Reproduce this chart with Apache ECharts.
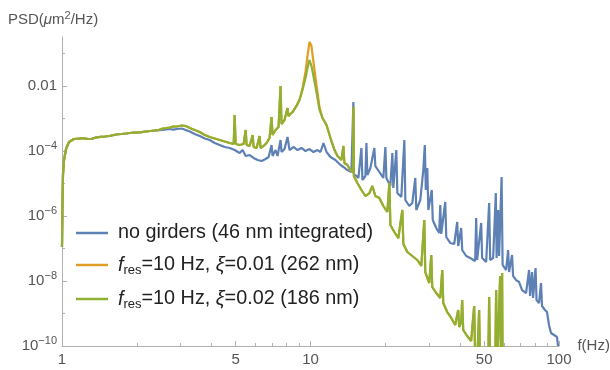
<!DOCTYPE html>
<html><head><meta charset="utf-8">
<script src="https://cdn.jsdelivr.net/npm/echarts@6/dist/echarts.min.js"></script>
<style>html,body{margin:0;padding:0;background:#fff}#c{width:610px;height:370px}</style>
</head><body><div id="c"></div>
<script>
// [frequency (Hz), PSD (um^2/Hz)]
const lowPart = [[1,1.11e-7],[1.005,3.1e-6],[1.009,1.83e-5],[1.019,5.28e-5],[1.038,1.15e-4],[1.067,1.89e-4],[1.117,2.34e-4],[1.181,2.43e-4],[1.23,2.45e-4],[1.272,2.34e-4],[1.32,2.38e-4],[1.369,2.60e-4],[1.43,2.72e-4],[1.488,2.79e-4],[1.55,2.90e-4],[1.618,3.11e-4],[1.68,3.28e-4],[1.742,3.34e-4],[1.81,3.45e-4],[1.876,3.58e-4],[1.95,3.70e-4],[2.019,3.71e-4],[2.09,3.80e-4],[2.175,3.98e-4],[2.27,4.12e-4],[2.363,4.28e-4],[2.45,4.40e-4]];

const blueTail = [[2.545,4.43e-4],[2.63,4.60e-4],[2.714,4.75e-4],[2.80,4.55e-4],[2.896,4.75e-4],[3.033,4.92e-4],[3.148,4.43e-4],[3.266,3.98e-4],[3.421,3.34e-4],[3.583,2.90e-4],[3.752,2.43e-4],[3.930,2.18e-4],[4.117,1.76e-4],[4.311,1.53e-4],[4.515,1.33e-4],[4.729,1.24e-4],[4.952,1.07e-4],[5.187,8.67e-5],[5.333,1.07e-4],[5.483,7.02e-5],[5.689,7.53e-5],[5.903,6.10e-5],[6.126,5.28e-5],[6.357,4.92e-5],[6.597,5.68e-5],[6.783,6.53e-5],[6.971,1.53e-4],[7.036,7.02e-5],[7.234,1.07e-4],[7.37,7.02e-5],[7.576,2.18e-4],[7.646,9.31e-5],[7.862,1.15e-4],[8.082,2.70e-4],[8.235,1.07e-4],[8.545,1.33e-4],[8.867,1.07e-4],[9.203,1.24e-4],[9.548,1.0e-4],[9.908,1.15e-4],[10.28,9.31e-5],[10.67,1.07e-4],[10.97,9.31e-5],[11.28,1.76e-4],[11.60,9.31e-5],[12.03,6.53e-5],[12.60,5.28e-5],[13.08,3.98e-5],[13.57,3.22e-5],[14.08,2.60e-5],[14.61,2.26e-5],[14.82,2.10e-5],[14.88,3.22e-3],[14.95,1.96e-5],[15.30,1.70e-5],[15.59,1.48e-5],[16.03,1.24e-4],[16.18,1.28e-5],[16.63,1.70e-5],[16.79,1.76e-4],[16.94,1.83e-5],[17.42,3.0e-5],[18.07,1.24e-4],[18.24,3.45e-5],[18.93,2.26e-5],[19.64,1.48e-5],[20.01,1.33e-4],[20.20,1.48e-5],[20.96,8.38e-6],[21.35,8.67e-5],[21.54,7.28e-6],[22.15,1.07e-4],[22.36,5.10e-6],[23.20,3.84e-6],[23.86,2.18e-4],[24.08,3.11e-6],[24.98,2.03e-6],[25.68,2.51e-6],[26.41,1.48e-5],[26.65,1.53e-6],[27.66,3.11e-6],[28.44,2.60e-5],[28.84,1.53e-4],[29.11,6.31e-6],[29.51,3.0e-5],[29.79,1.53e-6],[30.76,6.31e-6],[31.05,7.53e-7],[32.06,4.27e-7],[32.96,3.0e-7],[33.28,2.18e-6],[33.59,2.8e-7],[34.85,2.70e-6],[35.18,2.26e-7],[36.49,1.48e-7],[37.87,1.37e-7],[38.94,6.53e-7],[39.30,1.19e-7],[40.41,4.27e-7],[40.78,9.0e-8],[42.31,5.88e-8],[43.91,5.10e-8],[45.98,4.12e-8],[46.42,8.67e-7],[46.84,4.43e-8],[48.62,6.10e-7],[49.07,5.10e-8],[50.92,3.84e-8],[52.35,2.51e-6],[52.84,4.43e-8],[54.32,5.10e-8],[55.69,5.10e-6],[56.10,5.10e-8],[56.89,1.53e-6],[57.41,5.88e-8],[58.75,1.58e-5],[59.31,3.11e-8],[61.25,2.18e-8],[62.39,9.0e-8],[62.97,1.89e-8],[64.73,6.31e-8],[65.34,1.43e-8],[67.20,1.07e-8],[69.09,9.31e-9],[71.03,5.28e-9],[73.71,4.27e-9],[75.78,2.18e-8],[76.48,3.45e-9],[77.92,1.89e-8],[78.64,3.0e-9],[80.47,2.51e-8],[81.21,2.60e-9],[83.11,2.10e-9],[84.66,8.67e-9],[85.44,1.70e-9],[87.84,1.28e-9],[89.47,1.11e-9],[91.16,4.43e-10],[92.87,2.51e-10],[95.49,2.18e-10],[98.17,1.89e-10],[99.1,1.0e-10]];

const greenTail = [[2.545,4.92e-4],[2.63,5.10e-4],[2.714,5.28e-4],[2.80,5.60e-4],[2.896,5.68e-4],[3.033,6.10e-4],[3.148,5.88e-4],[3.266,5.10e-4],[3.421,4.43e-4],[3.583,3.84e-4],[3.752,3.11e-4],[3.930,2.70e-4],[4.117,2.43e-4],[4.311,2.18e-4],[4.515,1.96e-4],[4.729,1.76e-4],[4.907,1.64e-4],[4.952,1.28e-3],[4.998,1.64e-4],[5.187,1.53e-4],[5.383,1.64e-4],[5.483,4.43e-4],[5.534,1.53e-4],[5.689,1.43e-4],[5.849,3.11e-4],[5.903,1.33e-4],[6.069,1.24e-4],[6.240,2.90e-4],[6.297,1.24e-4],[6.474,1.43e-4],[6.656,1.76e-4],[6.843,2.51e-4],[6.971,1.11e-3],[7.036,3.11e-4],[7.234,4.43e-4],[7.437,5.47e-4],[7.576,1.0e-2],[7.646,6.78e-4],[7.862,9.0e-4],[8.082,2.10e-3],[8.157,1.19e-3],[8.465,1.58e-3],[8.784,2.43e-3],[9.032,3.71e-3],[9.287,7.53e-3],[9.548,1.76e-2],[9.727,3.58e-2],[9.908,6.31e-2],[10.0,6.78e-2],[10.09,4.12e-2],[10.28,2.03e-2],[10.57,6.53e-3],[10.87,1.83e-3],[11.17,1.04e-3],[11.60,6.31e-4],[12.03,2.51e-4],[12.49,1.07e-4],[12.84,7.02e-5],[13.32,5.28e-5],[13.57,1.43e-4],[13.69,4.27e-5],[14.08,3.71e-5],[14.47,2.60e-5],[14.82,2.26e-5],[14.88,2.26e-3],[14.95,1.70e-5],[15.44,1.04e-5],[16.03,6.31e-6],[16.63,4.12e-6],[17.26,5.10e-6],[17.74,8.38e-6],[18.24,4.12e-6],[18.93,3.58e-6],[19.64,2.03e-6],[20.38,1.33e-6],[20.77,1.04e-5],[20.96,5.28e-7],[21.75,3.22e-7],[22.57,2.10e-7],[23.42,1.53e-6],[23.64,1.37e-7],[24.53,7.80e-8],[25.68,5.88e-8],[26.90,4.43e-8],[27.92,2.90e-8],[28.70,7.53e-7],[28.96,1.89e-8],[30.06,8.67e-9],[30.62,6.31e-8],[30.90,6.53e-9],[32.06,4.27e-9],[33.28,3.0e-9],[33.90,2.18e-8],[34.21,2.10e-9],[35.50,1.11e-9],[36.84,7.28e-10],[38.22,4.43e-10],[39.30,1.28e-9],[39.66,3.84e-10],[40.41,5.47e-10],[40.78,2.60e-9],[41.17,3.11e-10],[42.70,2.03e-10],[44.31,1.43e-10],[45.56,1.70e-9],[45.98,5e-11],[46.84,3e-11],[47.71,1.28e-9],[48.16,2e-11],[51.87,2e-11],[52.35,3.22e-9],[52.84,2e-11],[55.34,2e-11],[55.85,5.28e-9],[56.36,2e-11],[57.96,1.43e-8],[58.49,2e-11],[59.03,1.76e-8],[59.31,2e-11]];

// orange (xi = 0.01) differs from green only around the resonance peak
const orangePeak = [[9.287,8.67e-3],[9.548,2.70e-2],[9.727,8.38e-2],[9.908,0.226],[10.0,0.243],[10.09,0.170],[10.28,5.47e-2],[10.57,1.07e-2],[10.87,2.26e-3]];

const seriesNames = ['no girders (46 nm integrated)', 'fres=10 Hz, ξ=0.01 (262 nm)', 'fres=10 Hz, ξ=0.02 (186 nm)'];
const seriesColors = ['#5e81b5', '#e19c24', '#8fb032'];

const xLabelTicks = [1, 5, 10, 50, 100];
const xMinorTicks = [2, 3, 4, 6, 7, 8, 9, 20, 30, 40, 60, 70, 80, 90];
const yLabelTicks = [1e-10, 1e-8, 1e-6, 1e-4, 1e-2];
const yMinorTicks = [1e-9, 1e-7, 1e-5, 1e-3, 0.1];

const FONT = "'Liberation Sans', Arial, sans-serif";
const blueData = lowPart.concat(blueTail);
const greenData = lowPart.concat(greenTail);
const orangeData = greenData.filter(d => d[0] < 9.2).concat(orangePeak, greenData.filter(d => d[0] > 10.9));

const axisGray = '#b0b0b0';
const labelGray = '#555';

const chart = echarts.init(document.getElementById('c'), null, {renderer: 'canvas'});

const LF = 19.8;
const legendRich = {
  t0: {fontSize: LF, fontFamily: FONT, color: '#222', lineHeight: 24, padding: [0, 0, 0, 5]},
  t: {fontSize: LF, fontFamily: FONT, color: '#222', lineHeight: 24},
  i0: {fontSize: LF, fontFamily: FONT, color: '#222', lineHeight: 24, fontStyle: 'italic', padding: [0, 0, 0, 5]},
  i: {fontSize: LF, fontFamily: FONT, color: '#222', lineHeight: 24, fontStyle: 'italic'},
  sub: {fontSize: 13, fontFamily: FONT, color: '#222', lineHeight: 13, verticalAlign: 'bottom'}
};

function legendFmt(name) {
  if (name.indexOf('fres') === 0) {
    const rest = name.slice(4);
    const k = rest.indexOf('ξ');
    return '{i0|f}{sub|res}{t|' + rest.slice(0, k) + '}{i|ξ}{t|' + rest.slice(k + 1) + '}';
  }
  return '{t0|' + name + '}';
}

const option = {
  animation: false,
  backgroundColor: '#fff',
  grid: {left: 62, right: 51, top: 37, bottom: 24, containLabel: false, outerBoundsMode: 'none'},
  legend: {
    orient: 'vertical', left: 76, top: 223, padding: 0, itemGap: 12,
    icon: 'rect', itemWidth: 32, itemHeight: 2.5,
    data: seriesNames,
    formatter: legendFmt,
    textStyle: {rich: legendRich, fontSize: LF, fontFamily: FONT, color: '#222'}
  },
  graphic: [{
    type: 'text', left: 8, top: 10,
    style: {
      text: '{a|PSD(}{i|μ}{a|m}{s|2}{a|/Hz)}',
      rich: {
        a: {fontSize: 15, fontFamily: FONT, fill: labelGray, color: labelGray, lineHeight: 19},
        i: {fontSize: 15, fontFamily: FONT, fill: labelGray, color: labelGray, lineHeight: 19, fontStyle: 'italic'},
        s: {fontSize: 11, fontFamily: FONT, fill: labelGray, color: labelGray, lineHeight: 10, verticalAlign: 'top'}
      }
    }
  }],
  xAxis: [{
    type: 'log', logBase: 10, min: 1, max: 100, position: 'bottom',
    axisLine: {lineStyle: {color: axisGray, width: 1}},
    axisTick: {inside: true, length: 5, customValues: xLabelTicks, lineStyle: {color: axisGray}},
    axisLabel: {customValues: xLabelTicks, color: labelGray, fontSize: 15, fontFamily: FONT, margin: 6,
      formatter: v => String(Math.round(v))},
    splitLine: {show: false}, minorTick: {show: false},
    name: 'f(Hz)', nameLocation: 'end', nameGap: 8,
    nameTextStyle: {color: labelGray, fontSize: 15, fontFamily: FONT, verticalAlign: 'middle', padding: [0, 0, 4, 0]}
  }, {
    type: 'log', logBase: 10, min: 1, max: 100, position: 'bottom',
    axisLine: {show: false},
    axisTick: {inside: true, length: 3, customValues: xMinorTicks, lineStyle: {color: axisGray}},
    axisLabel: {show: false}, splitLine: {show: false}
  }],
  yAxis: [{
    type: 'log', logBase: 10, min: 1e-10, max: 0.322, position: 'left',
    axisLine: {show: true, lineStyle: {color: axisGray, width: 1}},
    axisTick: {show: true, inside: true, length: 5, customValues: yLabelTicks, lineStyle: {color: axisGray}},
    axisLabel: {
      customValues: yLabelTicks, margin: 5,
      formatter: v => {
        const e = Math.round(Math.log10(v));
        if (e === -2) return '{b|0.01}';
        return '{b|10}{s|−' + (-e) + '}';
      },
      rich: {
        b: {fontSize: 15, fontFamily: FONT, color: labelGray, lineHeight: 22},
        s: {fontSize: 11, fontFamily: FONT, color: labelGray, lineHeight: 10, verticalAlign: 'top'}
      }
    },
    splitLine: {show: false}, minorTick: {show: false}
  }, {
    type: 'log', logBase: 10, min: 1e-10, max: 0.322, position: 'left',
    axisLine: {show: false},
    axisTick: {show: true, inside: true, length: 3, customValues: yMinorTicks, lineStyle: {color: axisGray}},
    axisLabel: {show: false}, splitLine: {show: false}
  }],
  series: [
    {name: seriesNames[0], type: 'line', data: blueData, showSymbol: false, symbol: 'none', clip: true,
      lineStyle: {color: seriesColors[0], width: 2.2}, itemStyle: {color: seriesColors[0]}},
    {name: seriesNames[1], type: 'line', data: orangeData, showSymbol: false, symbol: 'none', clip: true,
      lineStyle: {color: seriesColors[1], width: 2.2}, itemStyle: {color: seriesColors[1]}},
    {name: seriesNames[2], type: 'line', data: greenData, showSymbol: false, symbol: 'none', clip: true,
      lineStyle: {color: seriesColors[2], width: 2.2}, itemStyle: {color: seriesColors[2]}}
  ]
};
chart.setOption(option);
</script>
</body></html>
